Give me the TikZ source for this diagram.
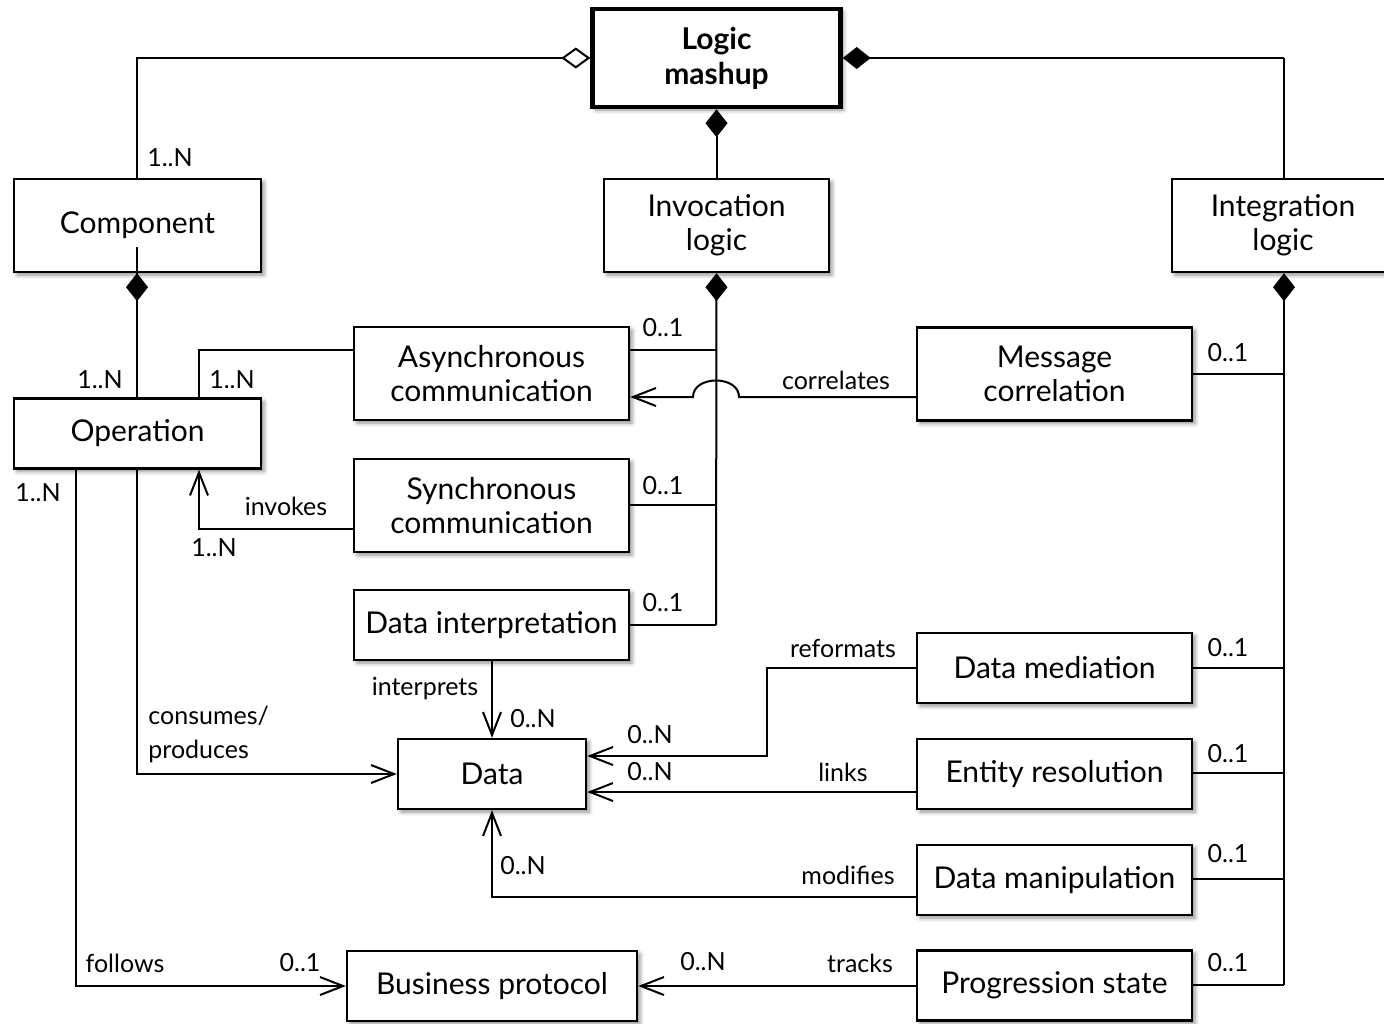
\documentclass[tikz,border=0pt]{standalone}
\usepackage{fontspec}
\setmainfont{Lato}
\usetikzlibrary{arrows.meta,shadows.blur}

\tikzset{
  box/.style={draw, line width=1.2pt, fill=white, inner sep=0pt, align=center,
    font=\fontsize{15}{17}\selectfont,
    blur shadow={shadow xshift=1.5pt, shadow yshift=-1.5pt, shadow blur radius=2pt, shadow opacity=45}},
  mainbox/.style={box, line width=2.2pt, font=\fontsize{15}{17.5}\selectfont\bfseries},
  lbl/.style={inner sep=0pt, font=\fontsize{12.5}{17}\selectfont},
  conn/.style={line width=1pt},
  assoc/.style={conn, -{Straight Barb[length=11.5pt,width=9pt,line width=1pt]}},
  compos/.style={conn, {Diamond[length=14pt,width=11pt]}-},
  aggr/.style={conn, -{Diamond[open,length=14.5pt,width=10.5pt,fill=white]}},
}

\begin{document}
\begin{tikzpicture}[x=0.5pt,y=-0.5pt]
\useasboundingbox (0,0) rectangle (1384,1023);

% classes
\node[mainbox, minimum width=124pt, minimum height=49pt] (mashup) at (716.5,58) {Logic\\mashup};
\node[box, minimum width=123.5pt, minimum height=46.5pt] (comp)  at (137.5,225.5) {Component};
\node[box, minimum width=112.5pt, minimum height=46.5pt] (inv)   at (716.5,225.5) {Invocation\\logic};
\node[box, minimum width=111pt,   minimum height=46.5pt] (integ) at (1283,225.5) {Integration\\logic};
\node[box, minimum width=137.5pt, minimum height=46.5pt] (async) at (491.5,373.5) {Asynchronous\\communication};
\node[box, minimum width=137.5pt, minimum height=46.5pt] (sync)  at (491.5,505.5) {Synchronous\\communication};
\node[box, minimum width=137.5pt, minimum height=35pt]   (interp) at (491.5,625) {Data interpretation};
\node[box, minimum width=137.5pt, minimum height=46.5pt] (msg)   at (1054.5,374) {Message\\correlation};
\node[box, minimum width=137.5pt, minimum height=35pt]   (med)   at (1054.5,668) {Data mediation};
\node[box, minimum width=137.5pt, minimum height=35pt]   (ent)   at (1054.5,774) {Entity resolution};
\node[box, minimum width=137.5pt, minimum height=35pt]   (manip) at (1054.5,880) {Data manipulation};
\node[box, minimum width=137.5pt, minimum height=35pt]   (prog)  at (1054.5,985.5) {Progression state};
\node[box, minimum width=123.5pt, minimum height=35pt]   (op)    at (137.5,433.5) {Operation};
\node[box, minimum width=94pt,    minimum height=35pt]   (data)  at (492,774) {Data};
\node[box, minimum width=145pt,   minimum height=35pt]   (bp)    at (492,986) {Business protocol};

% bend and junction points
\coordinate (top) at (137,58);
\coordinate (topr) at (1284,58);
\coordinate (ib1) at (716,350);
\coordinate (ib2) at (716,505);
\coordinate (ib3) at (716,625);
\coordinate (gb1) at (1284,374);
\coordinate (gb2) at (1284,668);
\coordinate (gb3) at (1284,773);
\coordinate (gb4) at (1284,879);
\coordinate (gb5) at (1284,985);
\coordinate (acol) at (199,350);
\coordinate (scol) at (199,529);
\coordinate (jc) at (716,397);
\coordinate (jr) at (739,397);
\coordinate (jl) at (693,397);
\coordinate (cp) at (137,774);
\coordinate (fw) at (76,986);
\coordinate (rf1) at (767,668);
\coordinate (rf2) at (767,756);
\coordinate (md) at (492,897);

% composition / aggregation of the mashup
\draw[aggr] (comp.north -| top) -- (top) -- (mashup.west |- top);
\draw[conn] (integ.north -| topr) -- (topr);
\draw[compos] (mashup.east |- topr) -- (topr);
\draw[compos] (mashup.south) -- (inv.north);
\draw[compos] (comp.south -| top) -- (comp.south -| top) -- (op.north -| top);

% invocation logic bus
\draw[compos] (inv.south) -- (ib3);
\draw[conn] (async.east |- ib1) -- (ib1);
\draw[conn] (sync.east |- ib2) -- (ib2);
\draw[conn] (interp.east |- ib3) -- (ib3);

% integration logic bus
\draw[compos] (integ.south -| gb1) -- (gb5);
\draw[conn] (msg.east |- gb1) -- (gb1);
\draw[conn] (med.east |- gb2) -- (gb2);
\draw[conn] (ent.east |- gb3) -- (gb3);
\draw[conn] (manip.east |- gb4) -- (gb4);
\draw[conn] (prog.east |- gb5) -- (gb5);

% associations
\draw[conn] (async.west |- acol) -- (acol) -- (op.north -| acol);
\draw[assoc] (sync.west |- scol) -- (scol) -- (op.south -| scol);
\draw[assoc] (msg.west |- jc) -- (jr) .. controls (739,375) and (693,375) .. (jl) -- (async.east |- jc);
\draw[assoc] (op.south -| cp) -- (cp) -- (data.west |- cp);
\draw[assoc] (op.south -| fw) -- (fw) -- (bp.west |- fw);
\draw[assoc] (interp.south -| data.north) -- (data.north);
\draw[assoc] (med.west |- rf1) -- (rf1) -- (rf2) -- (data.east |- rf2);
\draw[assoc] (ent.west |- 0,792) -- (data.east |- 0,792);
\draw[assoc] (manip.west |- md) -- (md) -- (data.south);
\draw[assoc] (prog.west |- fw) -- (bp.east |- fw);

% multiplicities and role names
\node[lbl] (m1) at (170,158) {1..N};
\node[lbl] (m2) at (100,380) {1..N};
\node[lbl] (m3) at (232,380) {1..N};
\node[lbl] (m4) at (38,493) {1..N};
\node[lbl] (m5) at (286,506) {invokes};
\node[lbl] (m6) at (214,548) {1..N};
\node[lbl] (m7) at (663,328) {0..1};
\node[lbl] (m8) at (663,486) {0..1};
\node[lbl] (m9) at (663,603) {0..1};
\node[lbl] (m10) at (836,380) {correlates};
\node[lbl] (m11) at (1228,353) {0..1};
\node[lbl] (m12) at (1228,648) {0..1};
\node[lbl] (m13) at (1228,754) {0..1};
\node[lbl] (m14) at (1228,854) {0..1};
\node[lbl] (m15) at (1228,963) {0..1};
\node[lbl, anchor=west, align=left] (m16) at (148,734) {consumes/\\produces};
\node[lbl] (m17) at (125,963) {follows};
\node[lbl] (m18) at (300,963) {0..1};
\node[lbl] (m19) at (425,689) {interprets};
\node[lbl] (m20) at (533,719) {0..N};
\node[lbl] (m21) at (843,648) {reformats};
\node[lbl] (m22) at (650,735) {0..N};
\node[lbl] (m23) at (843,772) {links};
\node[lbl] (m24) at (650,772) {0..N};
\node[lbl] (m25) at (848,875) {modifies};
\node[lbl] (m26) at (523,866) {0..N};
\node[lbl] (m27) at (860,963) {tracks};
\node[lbl] (m28) at (703,962) {0..N};
\end{tikzpicture}
\end{document}
